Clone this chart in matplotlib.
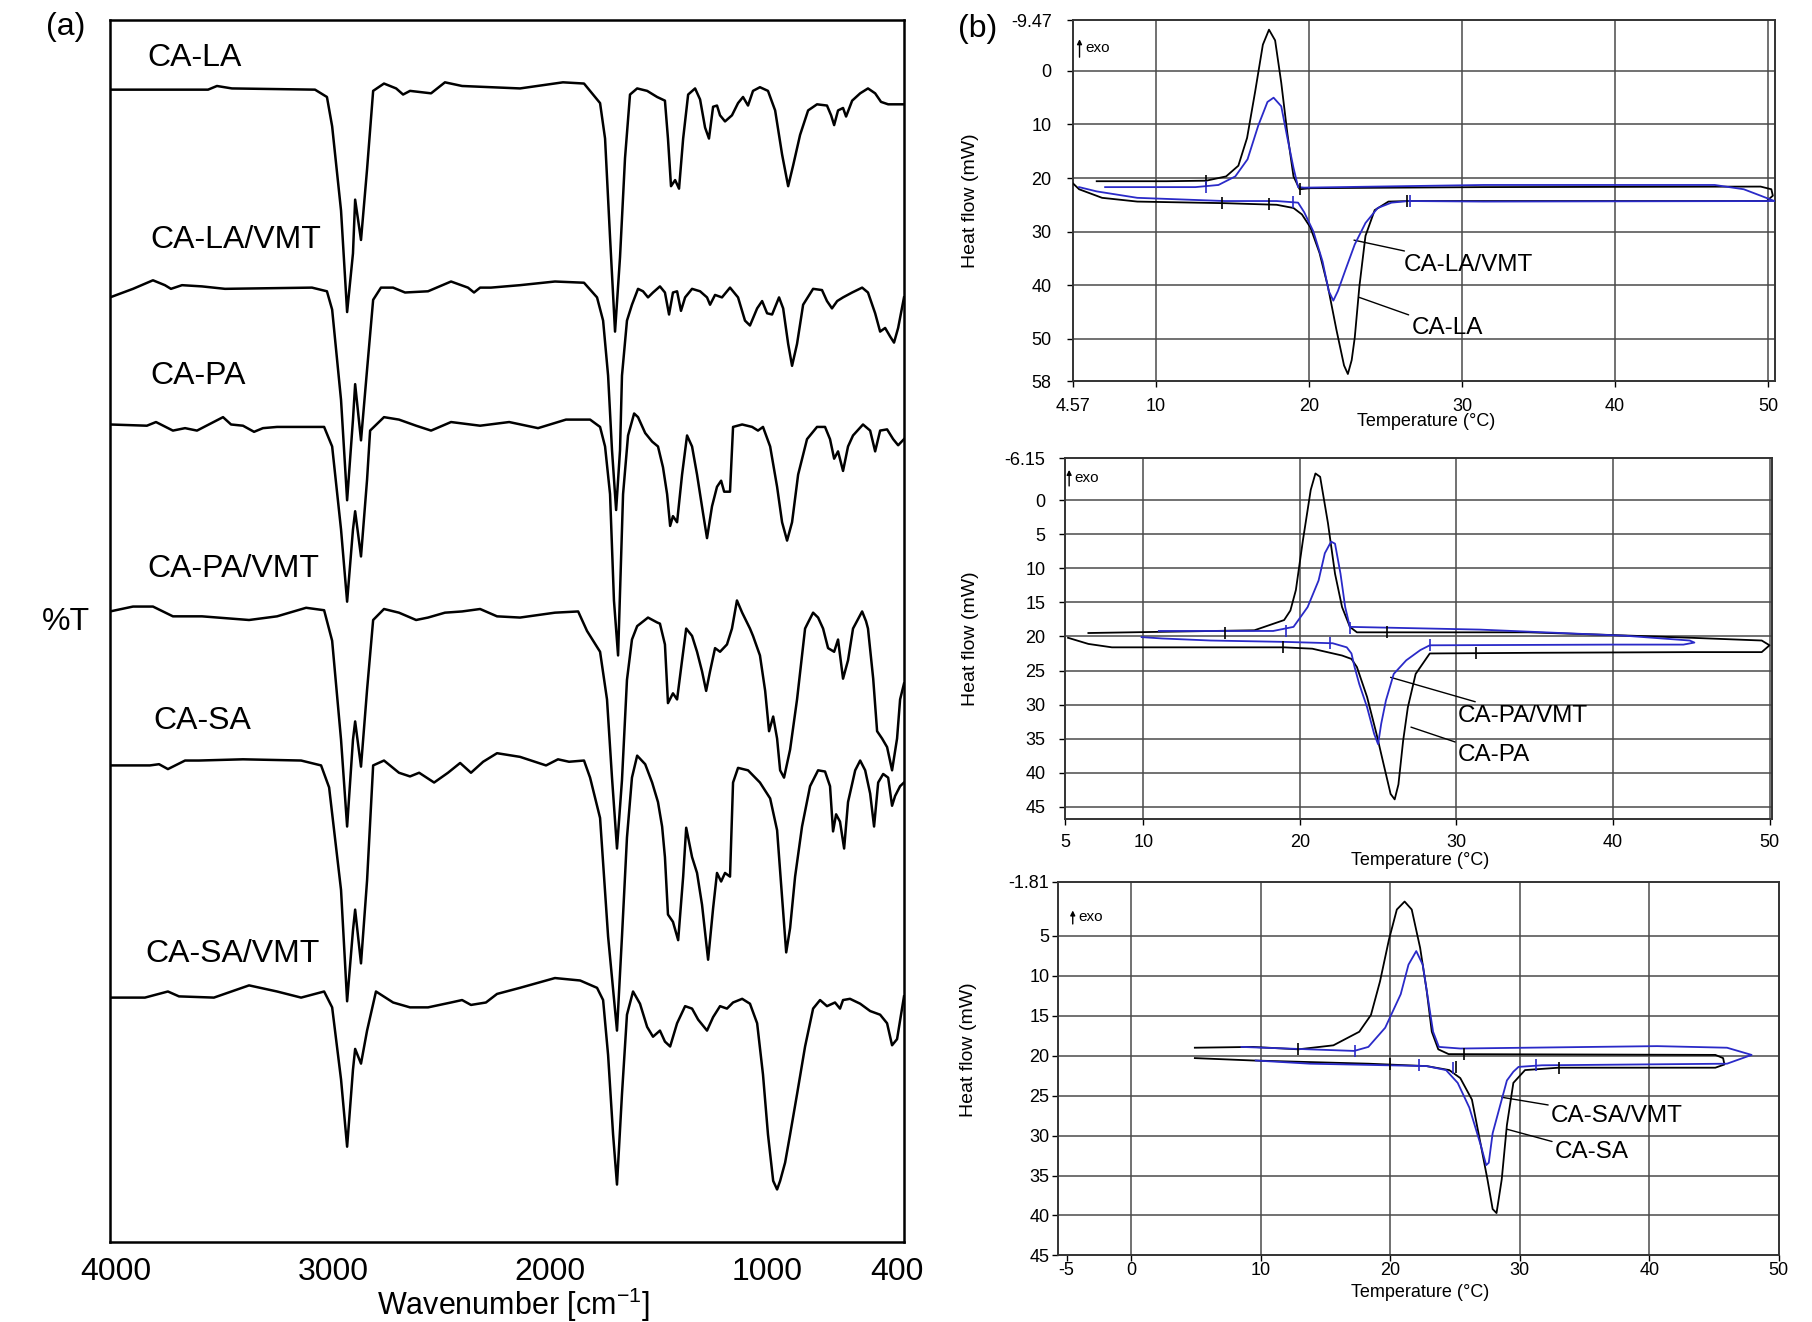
import matplotlib
matplotlib.use("Agg")
import matplotlib.pyplot as plt

plt.rcParams['font.family'] = ['Liberation Sans', 'DejaVu Sans']
plt.rcParams['mathtext.fontset'] = 'custom'
plt.rcParams['mathtext.rm'] = 'Liberation Sans'
plt.rcParams['mathtext.it'] = 'Liberation Sans:italic'

# ---------------- (a) FTIR spectra: wavenumber [cm-1] and %T (arbitrary offsets)
wn_la = [4028, 3576, 3535, 3466, 3083, 3028, 3004, 2963, 2935, 2908, 2898, 2871, 2843, 2815, 2765,
         2709, 2677, 2645, 2548, 2484, 2405, 2138, 1940, 1843, 1769, 1746, 1723, 1700, 1677, 1654,
         1631, 1598, 1552, 1506, 1470, 1456, 1442, 1423, 1405, 1386, 1363, 1331, 1308, 1285, 1267,
         1248, 1230, 1216, 1193, 1161, 1133, 1110, 1087, 1064, 1032, 995, 962, 930, 902, 879,
         847, 810, 769, 723, 704, 690, 672, 649, 635, 607, 570, 534, 501, 474, 441, 368]
pt_la = [94.3, 94.3, 94.6, 94.4, 94.3, 93.7, 91.3, 84.4, 76.1, 80.9, 85.3, 82.0, 87.8, 94.2, 94.8,
         94.4, 93.9, 94.2, 94.0, 94.9, 94.6, 94.4, 94.9, 94.8, 93.2, 90.3, 82.2, 74.5, 80.6, 88.7,
         93.9, 94.4, 94.2, 93.7, 93.4, 90.3, 86.4, 86.9, 86.2, 90.3, 93.9, 94.4, 93.5, 91.2, 90.3,
         92.9, 93.0, 92.2, 91.7, 92.2, 93.2, 93.7, 93.0, 94.2, 94.5, 94.2, 92.6, 89.0, 86.4, 88.1,
         90.6, 92.6, 93.1, 93.0, 92.2, 91.4, 92.6, 92.8, 92.1, 93.4, 94.0, 94.4, 94.0, 93.3, 93.1, 93.1]

wn_lavmt = [4028, 3922, 3830, 3775, 3747, 3696, 3604, 3498, 3097, 3028, 3004, 2963, 2935, 2908, 2898,
            2871, 2843, 2815, 2779, 2723, 2668, 2562, 2456, 2378, 2350, 2322, 2272, 2138, 1977, 1843,
            1783, 1755, 1732, 1714, 1695, 1677, 1668, 1645, 1622, 1594, 1571, 1548, 1525, 1493, 1470,
            1451, 1433, 1414, 1396, 1377, 1345, 1308, 1276, 1262, 1239, 1207, 1170, 1133, 1101, 1078,
            1045, 1022, 999, 976, 944, 925, 902, 884, 861, 833, 787, 746, 723, 700, 676,
            649, 607, 561, 534, 501, 478, 455, 432, 414, 395, 368]
pt_lavmt = [77.3, 78.0, 78.7, 78.3, 78.0, 78.3, 78.2, 78.0, 78.1, 77.8, 76.3, 68.9, 60.7, 67.3, 70.2,
            65.6, 71.4, 77.1, 78.1, 78.1, 77.7, 77.8, 78.6, 78.1, 77.7, 78.1, 78.1, 78.3, 78.6, 78.5,
            77.3, 75.4, 70.9, 64.8, 59.9, 64.8, 70.9, 75.4, 76.7, 78.0, 77.8, 77.3, 77.7, 78.2, 77.7,
            75.9, 77.7, 77.8, 76.2, 77.3, 78.0, 77.8, 77.3, 76.7, 77.5, 77.3, 78.1, 77.3, 75.4, 75.0,
            76.4, 77.0, 76.0, 75.9, 77.3, 76.4, 73.5, 71.7, 73.5, 76.7, 78.0, 77.9, 77.0, 76.4, 77.0,
            77.3, 77.7, 78.1, 77.7, 76.0, 74.5, 74.8, 74.1, 73.6, 74.8, 77.3]

wn_pa = [4028, 3858, 3816, 3738, 3682, 3627, 3507, 3470, 3415, 3364, 3323, 3258, 3041, 3004, 2963,
         2935, 2908, 2898, 2871, 2843, 2829, 2765, 2696, 2617, 2548, 2456, 2322, 2188, 2055, 1926,
         1815, 1769, 1746, 1723, 1705, 1686, 1663, 1640, 1612, 1594, 1561, 1529, 1502, 1479, 1460,
         1446, 1433, 1414, 1391, 1368, 1345, 1322, 1294, 1276, 1253, 1230, 1211, 1197, 1170, 1156,
         1114, 1068, 1041, 1018, 985, 953, 930, 907, 884, 856, 815, 769, 732, 709, 690,
         672, 649, 626, 603, 557, 524, 501, 478, 446, 418, 395, 368]
pt_pa = [66.9, 66.8, 67.1, 66.4, 66.6, 66.4, 67.5, 66.9, 66.8, 66.3, 66.6, 66.7, 66.7, 65.1, 58.3,
         52.4, 58.3, 59.8, 56.1, 62.4, 66.4, 67.5, 67.3, 66.8, 66.4, 67.1, 66.8, 67.1, 66.6, 67.3,
         67.3, 66.7, 65.1, 61.2, 52.5, 48.0, 61.2, 66.0, 67.8, 67.5, 66.2, 65.5, 65.1, 63.4, 61.2,
         58.6, 59.4, 58.9, 62.8, 66.0, 65.1, 62.8, 59.6, 57.6, 60.2, 61.8, 62.3, 61.4, 61.4, 66.7,
         66.9, 66.7, 66.4, 66.7, 65.1, 61.8, 58.9, 57.4, 58.9, 62.8, 65.7, 66.7, 66.7, 65.7, 64.1,
         64.7, 63.1, 65.1, 66.0, 66.9, 66.4, 64.7, 66.4, 66.5, 65.7, 65.2, 65.7]

wn_pavmt = [4028, 3922, 3830, 3738, 3604, 3387, 3258, 3124, 3041, 3004, 2963, 2935, 2908, 2898, 2871,
            2843, 2815, 2765, 2696, 2617, 2562, 2484, 2405, 2322, 2244, 2138, 1977, 1870, 1829, 1769,
            1737, 1714, 1691, 1668, 1645, 1622, 1598, 1548, 1506, 1493, 1470, 1456, 1433, 1414, 1391,
            1372, 1345, 1322, 1299, 1280, 1262, 1239, 1216, 1184, 1161, 1138, 1114, 1078, 1064, 1032,
            1008, 990, 971, 953, 939, 921, 893, 861, 824, 810, 787, 764, 741, 718, 690,
            672, 649, 626, 603, 561, 543, 534, 510, 492, 469, 446, 423, 400, 386, 368]
pt_pavmt = [51.6, 52.0, 52.0, 51.2, 51.2, 50.9, 51.2, 51.9, 51.7, 49.2, 41.1, 34.0, 41.1, 42.6, 38.9,
            45.2, 50.9, 51.8, 51.5, 50.9, 51.1, 51.5, 51.6, 51.8, 51.2, 51.1, 51.5, 51.6, 50.0, 48.3,
            44.4, 38.0, 32.2, 37.8, 46.0, 49.3, 50.4, 51.1, 50.7, 50.6, 48.9, 44.1, 44.9, 44.4, 47.6,
            50.2, 49.6, 48.3, 46.7, 45.1, 46.7, 48.6, 48.3, 48.9, 50.2, 52.5, 51.5, 50.2, 49.6, 48.0,
            45.1, 41.8, 43.0, 41.2, 38.6, 38.0, 40.3, 44.4, 50.2, 50.7, 51.5, 51.1, 50.2, 48.6, 48.3,
            49.3, 46.1, 47.6, 50.2, 51.6, 50.8, 50.2, 46.1, 41.8, 41.2, 40.5, 38.6, 41.2, 44.4, 45.7]

wn_sa = [4028, 3844, 3802, 3761, 3682, 3618, 3415, 3147, 3055, 3018, 2963, 2935, 2908, 2898, 2871,
         2843, 2815, 2765, 2696, 2645, 2603, 2534, 2470, 2414, 2364, 2308, 2244, 2138, 2018, 1963,
         1912, 1843, 1815, 1769, 1732, 1691, 1668, 1645, 1622, 1598, 1561, 1529, 1502, 1483, 1470,
         1456, 1433, 1409, 1386, 1372, 1345, 1322, 1299, 1271, 1248, 1230, 1211, 1193, 1170, 1156,
         1133, 1087, 1032, 985, 953, 930, 911, 893, 870, 838, 801, 764, 732, 709, 695,
         681, 663, 644, 626, 593, 570, 547, 524, 506, 487, 464, 441, 423, 409, 386, 368]
pt_sa = [39.0, 39.0, 39.1, 38.7, 39.4, 39.4, 39.5, 39.4, 39.0, 37.2, 28.8, 19.7, 25.5, 27.2, 22.8,
         29.6, 39.0, 39.4, 38.4, 38.1, 38.4, 37.6, 38.4, 39.2, 38.4, 39.3, 40.0, 39.7, 39.0, 39.5,
         39.3, 39.4, 38.0, 34.7, 25.0, 17.3, 25.0, 33.1, 38.0, 39.8, 39.1, 37.6, 36.0, 34.0, 31.5,
         26.8, 26.2, 24.7, 29.9, 33.9, 31.5, 30.2, 27.6, 23.1, 27.3, 30.2, 29.5, 30.2, 29.9, 37.6,
         38.8, 38.6, 37.6, 36.3, 33.7, 28.2, 23.7, 25.7, 29.9, 34.0, 37.3, 38.6, 38.5, 37.3, 33.6,
         35.0, 34.4, 32.2, 36.0, 38.6, 39.4, 38.6, 36.7, 34.0, 37.6, 38.3, 38.0, 35.7, 36.5, 37.3, 37.6]

wn_savmt = [4028, 3867, 3761, 3710, 3549, 3387, 3258, 3147, 3041, 3004, 2963, 2935, 2908, 2898, 2871,
            2843, 2802, 2723, 2645, 2562, 2456, 2405, 2364, 2295, 2244, 2138, 1977, 1861, 1783, 1755,
            1732, 1709, 1691, 1668, 1645, 1617, 1585, 1552, 1525, 1493, 1470, 1446, 1414, 1377, 1345,
            1317, 1276, 1248, 1216, 1184, 1156, 1114, 1078, 1045, 1018, 995, 971, 953, 939, 916,
            893, 861, 824, 787, 755, 723, 686, 663, 649, 617, 570, 524, 478, 446, 423, 400, 368]
pt_savmt = [20.0, 20.0, 20.5, 20.1, 20.0, 21.0, 20.5, 20.0, 20.5, 19.2, 13.3, 7.8, 14.1, 15.8, 14.6,
            17.3, 20.5, 19.6, 19.2, 19.2, 19.6, 19.8, 19.4, 19.6, 20.3, 20.8, 21.6, 21.4, 20.8, 19.8,
            15.3, 8.8, 4.7, 12.1, 18.6, 20.5, 19.5, 17.6, 16.8, 17.3, 16.4, 16.0, 17.9, 19.3, 19.1,
            18.2, 17.3, 18.4, 19.3, 19.1, 19.6, 19.9, 19.5, 17.9, 13.7, 8.8, 5.0, 4.3, 5.0, 6.5,
            8.8, 12.1, 16.0, 19.1, 19.8, 19.3, 19.6, 19.1, 19.8, 19.9, 19.5, 18.9, 18.6, 17.9, 16.1, 16.6, 20.1]

ftir_names = ['CA-LA', 'CA-LA/VMT', 'CA-PA', 'CA-PA/VMT', 'CA-SA', 'CA-SA/VMT']
ftir_name_wn = [3858, 3844, 3844, 3858, 3830, 3867]
ftir_name_pt = [96.9, 82.0, 70.9, 55.1, 42.6, 23.6]
wn_ticks = [4000, 3000, 2000, 1000, 400]

# ---------------- (b) DSC loops: temperature (C) and heat flow (mW)
la_t = [4.6, 5.0, 6.5, 8.8, 14.5, 17.9, 19.0, 19.55, 20.1, 20.7, 21.25, 21.8, 22.3, 22.55, 22.8, 23.0,
        23.3, 23.7, 24.3, 25.2, 26.5, 31.4, 49.9, 50.3, 50.2, 49.5, 31.4, 20.1, 19.4, 19.0, 18.6, 18.2,
        17.8, 17.4, 17.0, 16.5, 15.97, 15.4, 14.6, 13.3, 10.7, 6.15]
la_q = [21.0, 22.1, 23.7, 24.4, 24.7, 25.0, 25.6, 26.8, 29.2, 34.0, 40.3, 48.3, 55.0, 56.6, 54.0, 49.8,
        40.3, 30.8, 26.0, 24.4, 24.3, 24.3, 24.3, 23.3, 22.1, 21.6, 21.7, 21.9, 22.1, 19.7, 11.7, 2.2,
        -5.7, -7.7, -4.9, 3.8, 12.5, 17.7, 19.7, 20.5, 20.6, 20.6]
lavmt_t = [5.0, 6.15, 8.8, 14.5, 17.9, 19.3, 19.7, 20.3, 20.9, 21.3, 21.6, 21.9, 22.4, 23.0, 23.7, 24.5,
           25.4, 26.5, 31.4, 50.4, 49.5, 48.4, 46.5, 31.4, 19.7, 19.3, 19.0, 18.6, 18.2, 17.7, 17.3, 16.7,
           16.0, 15.2, 14.1, 12.6, 6.7]
lavmt_q = [21.7, 22.5, 23.7, 24.3, 24.3, 24.6, 26.4, 30.0, 35.6, 41.1, 42.9, 41.1, 37.1, 32.4, 28.4, 25.6,
           24.6, 24.3, 24.4, 24.3, 23.3, 22.1, 21.3, 21.3, 21.8, 21.7, 18.1, 12.5, 6.6, 5.0, 5.8, 10.2,
           16.5, 19.7, 21.3, 21.7, 21.7]
la_mark_t, la_mark_q = [13.3, 14.3, 17.4, 19.4, 26.4], [20.6, 24.7, 24.9, 22.0, 24.3]
lavmt_mark_t, lavmt_mark_q = [13.3, 19.0, 26.6], [21.7, 24.4, 24.3]

pa_t = [5.2, 6.5, 8.0, 19.0, 20.8, 22.7, 23.3, 23.65, 24.3, 24.9, 25.4, 25.8, 26.06, 26.3, 26.6, 26.9,
        27.4, 28.3, 35.0, 45.0, 49.5, 50.0, 49.5, 45.0, 40.0, 34.6, 23.65, 23.2, 22.7, 22.25, 21.8, 21.3,
        21.0, 20.7, 20.2, 19.75, 19.4, 19.0, 17.1, 6.5]
pa_q = [20.2, 21.1, 21.6, 21.6, 21.8, 22.8, 23.3, 24.5, 28.9, 34.3, 39.2, 43.1, 43.9, 41.7, 35.3, 30.4,
        25.5, 22.5, 22.4, 22.3, 22.3, 21.3, 20.6, 20.2, 19.8, 19.4, 19.4, 18.6, 15.7, 10.8, 3.4, -3.4,
        -3.9, -1.5, 5.9, 13.2, 16.2, 17.6, 19.1, 19.5]
pavmt_t = [9.9, 11.2, 14.3, 19.0, 22.1, 23.0, 23.3, 23.5, 23.8, 24.3, 24.75, 25.0, 25.2, 25.5, 26.0, 26.8,
           27.7, 28.3, 40.0, 44.5, 45.2, 44.9, 40.8, 31.5, 23.2, 22.9, 22.6, 22.25, 22.0, 21.6, 21.2, 20.5,
           19.6, 18.3, 11.0]
pavmt_q = [20.1, 20.3, 20.6, 20.8, 21.0, 21.6, 22.5, 24.5, 27.0, 30.4, 34.3, 35.8, 32.8, 29.4, 25.5, 23.5,
           22.0, 21.3, 21.2, 21.2, 20.9, 20.6, 19.9, 19.0, 18.6, 15.7, 10.8, 6.4, 6.1, 7.8, 11.8, 15.7,
           18.6, 19.2, 19.2]
pa_mark_t, pa_mark_q = [15.2, 18.9, 25.6, 31.25], [19.5, 21.6, 19.4, 22.4]
pavmt_mark_t, pavmt_mark_q = [19.1, 21.9, 23.2, 28.3], [19.2, 21.0, 18.7, 21.3]

sa_t = [4.9, 9.4, 18.3, 22.8, 24.55, 25.4, 26.3, 27.0, 27.5, 27.9, 28.2, 28.6, 29.0, 29.5, 30.4, 33.0,
        45.1, 45.8, 45.7, 45.1, 24.5, 23.7, 23.2, 22.8, 22.3, 21.65, 21.1, 20.5, 19.9, 19.2, 18.5, 17.6,
        15.6, 12.9, 9.4, 4.9]
sa_q = [20.3, 20.6, 21.0, 21.3, 21.8, 22.8, 25.5, 31.3, 35.5, 39.2, 39.7, 35.5, 28.7, 23.4, 21.8, 21.5,
        21.5, 21.1, 20.3, 19.9, 19.8, 19.2, 17.0, 11.8, 6.5, 1.7, 0.7, 1.7, 5.4, 10.7, 14.9, 17.0,
        18.7, 19.2, 18.9, 19.0]
savmt_t = [9.6, 13.8, 22.8, 24.3, 25.2, 26.1, 27.0, 27.4, 27.6, 27.9, 28.6, 29.0, 29.5, 29.9, 31.7, 46.0,
           47.9, 46.0, 40.6, 25.4, 23.75, 23.3, 22.9, 22.5, 22.0, 21.4, 20.8, 19.6, 18.3, 17.2, 8.5]
savmt_q = [20.6, 21.0, 21.3, 21.8, 23.4, 26.5, 31.3, 33.7, 33.4, 29.7, 25.5, 23.1, 22.0, 21.4, 21.2, 21.0,
           19.9, 19.0, 18.8, 19.1, 18.9, 17.0, 12.8, 8.6, 6.9, 8.6, 12.3, 16.5, 18.9, 19.4, 18.9]
sa_mark_t, sa_mark_q = [12.9, 20.0, 25.1, 25.7, 33.0], [19.2, 21.0, 21.4, 19.8, 21.5]
savmt_mark_t, savmt_mark_q = [17.3, 22.2, 24.8, 31.25], [19.4, 21.2, 21.6, 21.2]

W, H = 1812, 1322
BLUE = '#2a2ac8'
GRID = '#4a4a4a'


def box(left, top, right, bottom):
    return [left / W, 1 - bottom / H, (right - left) / W, (bottom - top) / H]


fig = plt.figure(figsize=(W / 100, H / 100), dpi=100)

# ---- panel (a)
ax = fig.add_axes(box(110, 20, 904, 1242))
for wn, pt in [(wn_la, pt_la), (wn_lavmt, pt_lavmt), (wn_pa, pt_pa),
               (wn_pavmt, pt_pavmt), (wn_sa, pt_sa), (wn_savmt, pt_savmt)]:
    ax.plot(wn, pt, color='black', lw=1.8, solid_joinstyle='round')
for name, x, y in zip(ftir_names, ftir_name_wn, ftir_name_pt):
    ax.text(x, y, name, fontsize=23, ha='left', va='center')
ax.set_xlim(4028, 368)
ax.set_ylim(0, 100)
ax.set_xticks(wn_ticks)
ax.set_xticklabels([str(v) for v in wn_ticks])
ax.set_yticks([])
ax.tick_params(axis='x', length=0, labelsize=23, pad=11)
for s in ax.spines.values():
    s.set_linewidth(1.8)
ax.set_xlabel('Wavenumber [cm$^{-1}$]', fontsize=22)
ax.xaxis.set_label_coords(0.508, -0.036)
ax.set_ylabel('%T', fontsize=23, rotation=0, ha='right', va='center')
ax.yaxis.set_label_coords(-0.025, 0.507)
fig.text(46 / W, 1 - 27.5 / H, '(a)', fontsize=23, va='center')
fig.text(958 / W, 1 - 29.5 / H, '(b)', fontsize=23, va='center')


# ---- panel (b)
def dsc_axes(rect, xlim, ylim, xticks, xlabels, yticks, ylabels, xgrid, ygrid,
             xpad, ypad, ylab_x, ylab_y, xlab_y, exo):
    a = fig.add_axes(rect)
    a.set_xlim(*xlim)
    a.set_ylim(*ylim)
    a.set_xticks(xticks)
    a.set_xticklabels(xlabels)
    a.set_yticks(yticks)
    a.set_yticklabels(ylabels)
    for g in xgrid:
        a.axvline(g, color=GRID, lw=1.1, zorder=0)
    for g in ygrid:
        a.axhline(g, color=GRID, lw=1.1, zorder=0)
    for s in a.spines.values():
        s.set_linewidth(1.4)
        s.set_color('#333333')
    a.tick_params(axis='x', labelsize=13, length=4, width=1, pad=xpad)
    a.tick_params(axis='y', labelsize=13, length=4, width=1, pad=ypad)
    a.set_ylabel('Heat flow (mW)', fontsize=14)
    a.yaxis.set_label_coords(ylab_x, ylab_y)
    a.set_xlabel('Temperature (\u00b0C)', fontsize=13)
    a.xaxis.set_label_coords(0.503, xlab_y)
    a.annotate('', xy=(exo[0], exo[2]), xytext=(exo[0], exo[1]), xycoords='axes fraction',
               arrowprops=dict(arrowstyle='-|>', lw=1.0, color='black', mutation_scale=7))
    a.text(exo[0] + 0.008, (exo[1] + exo[2]) / 2, 'exo', fontsize=11,
           transform=a.transAxes, va='center', ha='left')
    return a


def draw_pair(a, t1, q1, m1t, m1q, t2, q2, m2t, m2q):
    a.plot(t1, q1, color='black', lw=1.3, zorder=3)
    a.plot(t2, q2, color=BLUE, lw=1.3, zorder=4)
    a.plot(m1t, m1q, ls='none', marker='|', ms=8, mew=1.2, color='black', zorder=5)
    a.plot(m2t, m2q, ls='none', marker='|', ms=8, mew=1.2, color=BLUE, zorder=5)


def label(a, text, start, end):
    a.annotate(text, xy=start, xytext=end, fontsize=17.5, va='center', ha='left',
               arrowprops=dict(arrowstyle='-', lw=1.0, color='black', shrinkA=0, shrinkB=0))


top = dsc_axes(box(1072.5, 20.2, 1775, 381.5), (4.57, 50.44), (58, -9.47),
               [4.57, 10, 20, 30, 40, 50], ['4.57', '10', '20', '30', '40', '50'],
               [-9.47, 0, 10, 20, 30, 40, 50, 58],
               ['-9.47', '0', '10', '20', '30', '40', '50', '58'],
               [10, 20, 30, 40, 50], [0, 10, 20, 30, 40, 50],
               8, 11, -0.133, 0.5, -0.087, (0.010, 0.89, 0.955))
draw_pair(top, la_t, la_q, la_mark_t, la_mark_q, lavmt_t, lavmt_q, lavmt_mark_t, lavmt_mark_q)
label(top, 'CA-LA/VMT', (22.95, 31.6), (26.2, 36.2))
label(top, 'CA-LA', (23.3, 42.3), (26.7, 48.1))

mid = dsc_axes(box(1064.9, 458.1, 1771.9, 818.5), (5, 50.15), (46.7, -6.15),
               [5, 10, 20, 30, 40, 50], ['5', '10', '20', '30', '40', '50'],
               [-6.15, 0, 5, 10, 15, 20, 25, 30, 35, 40, 45],
               ['-6.15', '0', '5', '10', '15', '20', '25', '30', '35', '40', '45'],
               [10, 20, 30, 40, 50], [0, 5, 10, 15, 20, 25, 30, 35, 40, 45],
               7, 10, -0.1215, 0.5, -0.093, (0.006, 0.915, 0.975))
draw_pair(mid, pa_t, pa_q, pa_mark_t, pa_mark_q, pavmt_t, pavmt_q, pavmt_mark_t, pavmt_mark_q)
label(mid, 'CA-PA/VMT', (25.8, 26.0), (30.1, 31.6))
label(mid, 'CA-PA', (27.1, 33.3), (30.1, 37.4))

bot = dsc_axes(box(1057.6, 881.5, 1778.8, 1255.4), (-5.7, 50), (45, -1.81),
               [-5, 0, 10, 20, 30, 40, 50], ['-5', '0', '10', '20', '30', '40', '50'],
               [-1.81, 5, 10, 15, 20, 25, 30, 35, 40, 45],
               ['-1.81', '5', '10', '15', '20', '25', '30', '35', '40', '45'],
               [0, 10, 20, 30, 40], [5, 10, 15, 20, 25, 30, 35, 40],
               1, 2, -0.112, 0.55, -0.0765, (0.021, 0.879, 0.93))
draw_pair(bot, sa_t, sa_q, sa_mark_t, sa_mark_q, savmt_t, savmt_q, savmt_mark_t, savmt_mark_q)
label(bot, 'CA-SA/VMT', (28.6, 25.2), (32.4, 27.6))
label(bot, 'CA-SA', (29.0, 29.2), (32.7, 32.1))

fig.savefig('out.png', dpi=100, facecolor='white')
